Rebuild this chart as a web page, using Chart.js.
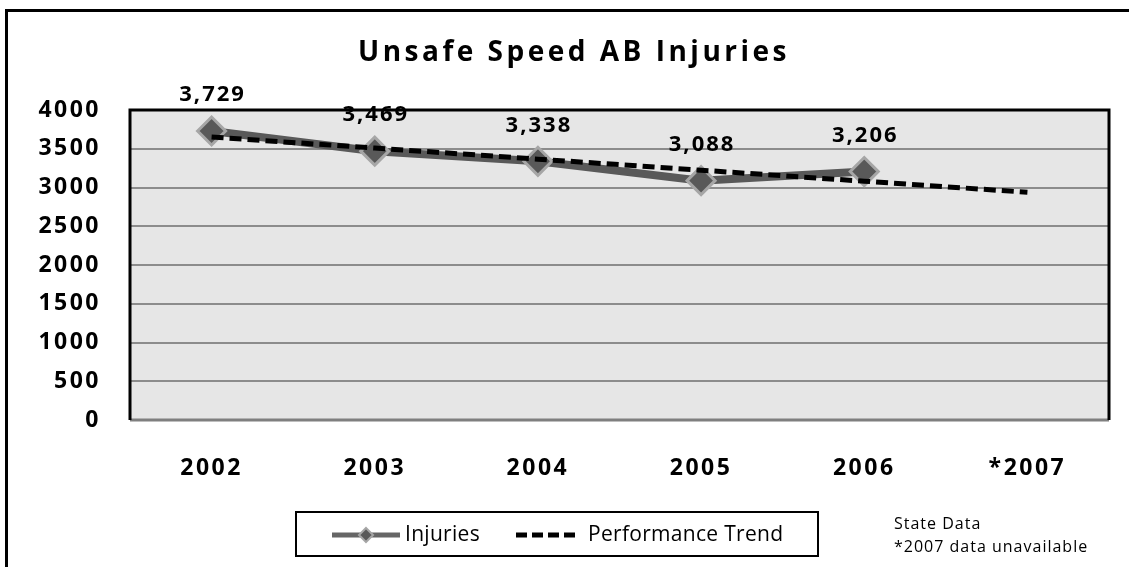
<!DOCTYPE html>
<html>
<head>
<meta charset="utf-8">
<script src="https://cdn.jsdelivr.net/npm/chart.js@4.4.1/dist/chart.umd.min.js"></script>
<style>
html,body{margin:0;padding:0;background:#fff;}
#wrap{width:1129px;height:567px;position:relative;}
</style>
</head>
<body>
<div id="wrap"><canvas id="c" width="1129" height="567"></canvas></div>
<script>
const categories = ['2002','2003','2004','2005','2006','*2007'];
const injuries = [3729, 3469, 3338, 3088, 3206, null];
const injuryLabels = ['3,729','3,469','3,338','3,088','3,206'];
const trend = [3651, 3509, 3366, 3223, 3081, 2938];
const yTicks = [0,500,1000,1500,2000,2500,3000,3500,4000];
const titleText = 'Unsafe Speed AB Injuries';
const notes = ['State Data', '*2007 data unavailable'];

const FONT = '"Open Sans", "Noto Sans", sans-serif';

const decor = {
  id: 'decor',
  beforeUpdate(chart){ chart.ctx.letterSpacing = '2.5px'; },
  beforeDraw(chart){
    const ctx = chart.ctx, a = chart.chartArea;
    ctx.letterSpacing = '2.5px';
    ctx.save();
    ctx.fillStyle = '#fff';
    ctx.fillRect(0,0,chart.width,chart.height);
    ctx.fillStyle = '#e6e6e6';
    ctx.fillRect(a.left, a.top, a.right-a.left, a.bottom-a.top);
    ctx.strokeStyle = '#000';
    ctx.lineWidth = 3;
    ctx.strokeRect(6.5, 10.5, 1200, 700);
    ctx.restore();
  },
  beforeDatasetsDraw(chart){
    const ctx = chart.ctx, a = chart.chartArea;
    ctx.save();
    ctx.strokeStyle = '#7f7f7f';
    ctx.lineWidth = 3;
    ctx.beginPath(); ctx.moveTo(a.left, a.bottom); ctx.lineTo(a.right, a.bottom); ctx.stroke();
    ctx.strokeStyle = '#000';
    ctx.lineWidth = 3;
    ctx.beginPath();
    ctx.moveTo(a.left, a.bottom); ctx.lineTo(a.left, a.top); ctx.lineTo(a.right, a.top); ctx.lineTo(a.right, a.bottom);
    ctx.stroke();
    ctx.restore();
  },
  afterDraw(chart){
    const ctx = chart.ctx;
    ctx.save();
    // title
    ctx.letterSpacing = '3.5px';
    ctx.fillStyle = '#000';
    ctx.font = 'bold 28px ' + FONT;
    ctx.textAlign = 'center';
    ctx.textBaseline = 'middle';
    ctx.fillText(titleText, 574, 53);
    // data labels
    const meta = chart.getDatasetMeta(1);
    ctx.font = 'bold 22px ' + FONT;
    ctx.letterSpacing = '2px';
    meta.data.forEach((p, i) => {
      if (injuries[i] == null) return;
      ctx.fillText(injuryLabels[i], p.x + 1, p.y - 36);
    });
    // legend
    ctx.strokeStyle = '#000';
    ctx.lineWidth = 2;
    ctx.strokeRect(296, 512, 522, 44);
    const ly = 535;
    ctx.strokeStyle = '#666';
    ctx.lineWidth = 5;
    ctx.beginPath(); ctx.moveTo(332, ly); ctx.lineTo(400, ly); ctx.stroke();
    ctx.fillStyle = '#595959';
    ctx.strokeStyle = '#a6a6a6';
    ctx.lineWidth = 2;
    ctx.beginPath();
    ctx.moveTo(366, ly-7); ctx.lineTo(373, ly); ctx.lineTo(366, ly+7); ctx.lineTo(359, ly); ctx.closePath();
    ctx.fill(); ctx.stroke();
    ctx.strokeStyle = '#000';
    ctx.lineWidth = 5;
    ctx.setLineDash([11,5]);
    ctx.beginPath(); ctx.moveTo(516, ly); ctx.lineTo(576, ly); ctx.stroke();
    ctx.setLineDash([]);
    ctx.fillStyle = '#000';
    ctx.letterSpacing = '0.3px';
    ctx.font = '21px ' + FONT;
    ctx.textAlign = 'left';
    ctx.fillText('Injuries', 405, ly);
    ctx.fillText('Performance Trend', 588, ly);
    // notes
    ctx.font = '16px ' + FONT;
    ctx.letterSpacing = '1px';
    ctx.fillText(notes[0], 894, 524);
    ctx.fillText(notes[1], 894, 547);
    ctx.restore();
  }
};

new Chart(document.getElementById('c'), {
  type: 'line',
  data: {
    labels: categories,
    datasets: [
      {
        label: 'Performance Trend',
        data: trend,
        borderColor: '#000',
        borderWidth: 5,
        borderDash: [12,6],
        pointRadius: 0,
        tension: 0,
        fill: false,
        order: 1
      },
      {
        label: 'Injuries',
        data: injuries,
        borderColor: '#595959',
        borderWidth: 8,
        pointStyle: 'rectRot',
        pointRadius: 14,
        pointBackgroundColor: '#595959',
        pointBorderColor: '#a6a6a6',
        pointBorderWidth: 3,
        tension: 0,
        fill: false,
        spanGaps: false,
        order: 2
      }
    ]
  },
  options: {
    responsive: false,
    animation: false,
    devicePixelRatio: 1,
    layout: { padding: { left: 0, top: 110, right: 20, bottom: 0 } },
    plugins: { legend: { display: false }, title: { display: false }, tooltip: { enabled: false } },
    scales: {
      x: {
        offset: true,
        grid: { display: false, drawTicks: false },
        border: { display: false },
        ticks: { color: '#000', font: { family: FONT, size: 23, weight: 'bold' }, padding: 35, maxRotation: 0 },
        afterFit(s){ s.height = 147; }
      },
      y: {
        min: 0, max: 4000,
        afterBuildTicks(s){ s.ticks = yTicks.map(v => ({value: v})); },
        grid: { color: '#8c8c8c', lineWidth: 2, drawTicks: false },
        border: { display: false },
        ticks: { color: '#000', font: { family: FONT, size: 23, weight: 'bold' }, padding: 29, callback: v => String(v) },
        afterFit(s){ s.width = 130; }
      }
    }
  },
  plugins: [decor]
});
</script>
</body>
</html>
